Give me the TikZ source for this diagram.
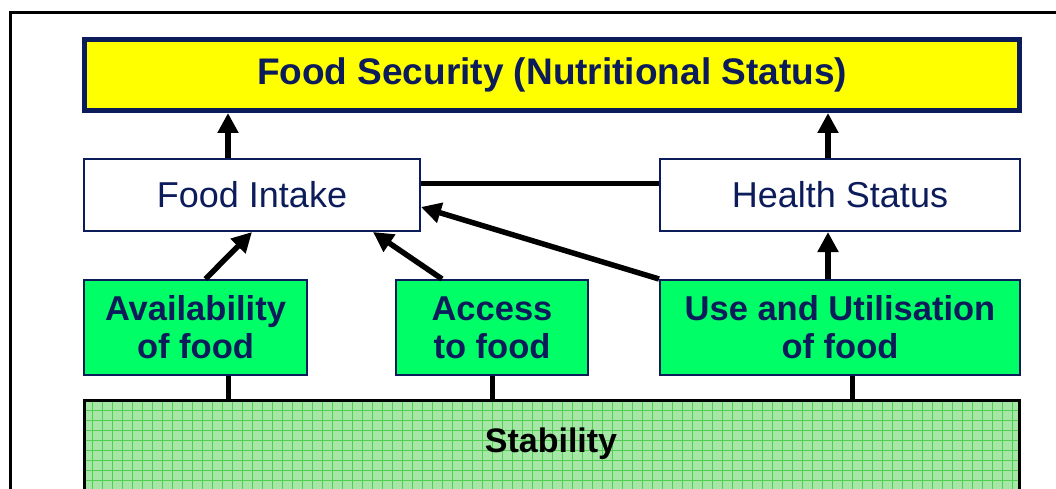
\documentclass[tikz,border=0pt]{standalone}
\usepackage{fontspec}
\setmainfont{Liberation Sans}
\usepackage{xcolor}
\usetikzlibrary{arrows.meta,calc}

\definecolor{navy}{RGB}{12,28,90}
\definecolor{secyellow}{RGB}{255,255,0}
\definecolor{pillargreen}{RGB}{0,255,102}
\definecolor{stabfill}{RGB}{166,230,166}
\definecolor{stabgrid}{RGB}{80,206,80}

\begin{document}
\begin{tikzpicture}[x=1pt,y=1pt]
		\tikzset{
			box/.style={draw=navy, line width=2pt, text=navy, align=center, inner sep=0pt},
			goal box/.style={box, fill=secyellow, line width=5pt,
					font=\bfseries\fontsize{37}{40}\selectfont,
					minimum width=935pt, minimum height=71pt},
			link box/.style={box, font=\fontsize{36}{40}\selectfont, minimum height=72pt},
			pillar/.style={box, fill=pillargreen,
					font=\bfseries\fontsize{34.5}{38}\selectfont, minimum height=95pt},
			up/.style={-{Triangle[length=20pt,width=20pt]}, line width=5.5pt},
			tie/.style={line width=5pt},
			%stab grid/.style={pattern=grid},
		}
		\useasboundingbox (0,0) rectangle (1056,-489);
		\clip (0,0) rectangle (1056,-489);
		% outer frame
		\draw[line width=3pt] (10,-13) rectangle (1080,-520);
		%
		\node[goal box] (sec) at (552,-75) {Food Security (Nutritional Status)};
		\node[link box, minimum width=336pt] (intake) at (252,-195) {Food Intake};
		\node[link box, minimum width=360pt] (health) at (840,-195) {Health Status};
		\node[pillar, minimum width=223pt] (avail) at (195.5,-327.5) {Availability\\of food};
		\node[pillar, minimum width=192pt] (access) at (492,-327.5) {Access\\to food};
		\node[pillar, minimum width=360pt] (use) at (840,-327.5) {Use and Utilisation\\of food};
		\node[draw, line width=3pt, fill=stabfill, minimum width=935pt, minimum height=120pt,
			path picture={\draw[stabgrid, line width=0.9pt, xshift=3pt]
					(path picture bounding box.south west) grid[step=10pt]
					(path picture bounding box.north east);}] (stab) at (552,-460.5) {};
		\node[anchor=base, font=\bfseries\fontsize{34}{38}\selectfont] (stabtxt) at (551,-452) {Stability};
		%
		\draw[up] ([xshift=-24pt]intake.north) -- ([xshift=-24pt]intake.north |- sec.south);
		\draw[up] ([xshift=-12pt]health.north) -- ([xshift=-12pt]health.north |- sec.south);
		\draw[tie] ([yshift=12pt]intake.east) -- ([yshift=12pt]intake.east -| health.west);
		\draw[up] ([xshift=10pt]avail.north) -- (intake.south);
		\draw[up] ([xshift=-50pt]access.north) -- ([xshift=121pt]intake.south);
		\draw[up] (use.north west) -- ([yshift=-12pt]intake.east);
		\draw[up] ([xshift=-12pt]use.north) -- ([xshift=-12pt]health.south);
		%
		\draw[tie] ([xshift=32.5pt]avail.south) -- ([xshift=32.5pt]avail.south |- stab.north);
		\draw[tie] (access.south) -- (access.south |- stab.north);
		\draw[tie] ([xshift=12pt]use.south) -- ([xshift=12pt]use.south |- stab.north);
	\end{tikzpicture}
\end{document}
